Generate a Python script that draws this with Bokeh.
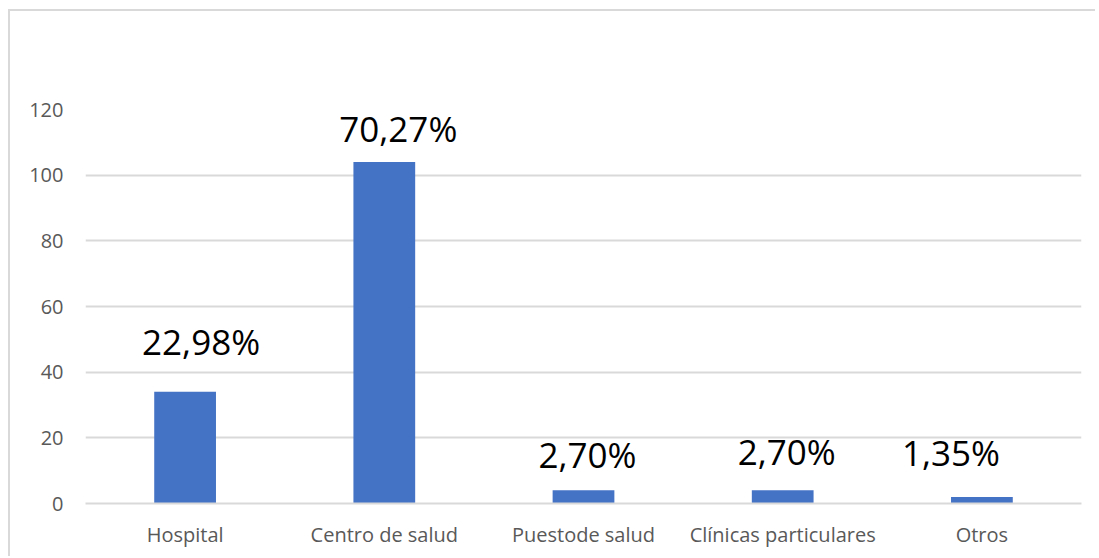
from bokeh.plotting import figure
from bokeh.models import ColumnDataSource, Range1d, FactorRange
from bokeh.core.properties import value
from bokeh.embed import file_html
from bokeh.resources import INLINE

categories = ["Hospital", "Centro de salud", "Puestode salud", "Clínicas particulares", "Otros"]
counts = [34, 104, 4, 4, 2]
pct_labels = ["22,98%", "70,27%", "2,70%", "2,70%", "1,35%"]
y_ticks = [0, 20, 40, 60, 80, 100, 120]

# label placement offsets (screen px), style only
label_dx = [16, 14, 4, 4, -31]
label_dy = [-50, -34, -36, -39, -44]

FONT = "Open Sans"
BAR = "#4472C4"
GRID = "#D9D9D9"
TXT = "#595959"

src = ColumnDataSource(dict(cat=categories, val=counts, lab=pct_labels, dx=label_dx, dy=label_dy))

p = figure(x_range=FactorRange(*categories), y_range=Range1d(0, 120),
           width=1087, height=547, output_backend="svg", toolbar_location=None,
           min_border_left=75, min_border_right=16, min_border_top=98, min_border_bottom=55)
p.styles = {"margin-left": "8px", "margin-top": "9px",
            "border-left": "2px solid #D9D9D9", "border-top": "2px solid #D9D9D9"}
p.outline_line_color = None
p.background_fill_color = "white"
p.border_fill_color = "white"

p.vbar(x="cat", top="val", width=0.31, source=src, color=BAR, line_color=None)
p.text(x="cat", y="val", text="lab", source=src, x_offset="dx", y_offset="dy",
       text_align="center", text_baseline="alphabetic",
       text_font=value(FONT), text_font_size="35px", text_color="#000000")

p.yaxis.ticker = y_ticks
p.ygrid.grid_line_color = GRID
p.ygrid.grid_line_width = 2
p.xgrid.grid_line_color = None

for ax in (p.xaxis[0], p.yaxis[0]):
    ax.major_tick_line_color = None
    ax.minor_tick_line_color = None
    ax.major_label_text_font = FONT
    ax.major_label_text_color = TXT
    ax.major_label_text_font_size = "20px"
p.yaxis.axis_line_color = None
p.xaxis.axis_line_color = GRID
p.xaxis.axis_line_width = 2
p.yaxis.major_label_standoff = 16
p.xaxis.major_label_standoff = 11

open("out.html", "w").write(file_html(p, INLINE))
